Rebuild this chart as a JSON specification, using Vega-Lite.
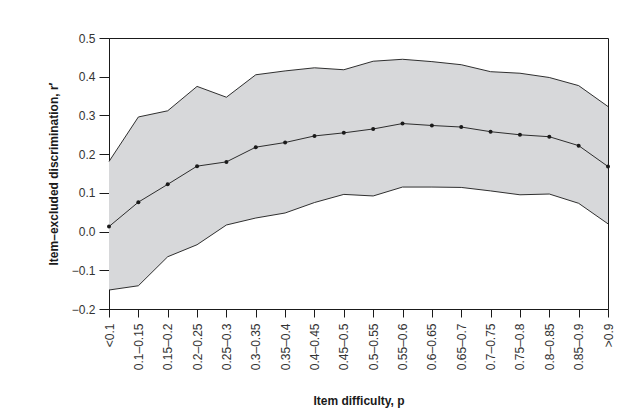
{
  "$schema": "https://vega.github.io/schema/vega-lite/v6.json",
  "autosize": "none",
  "width": 499,
  "height": 271,
  "padding": {"left": 109, "top": 38, "right": 32, "bottom": 108},
  "background": "white",
  "config": {
    "font": "Liberation Sans",
    "view": {"stroke": "#1a1a1a", "strokeWidth": 1},
    "axis": {
      "grid": false,
      "domainColor": "#1a1a1a",
      "tickColor": "#1a1a1a",
      "labelColor": "#333333",
      "labelFont": "Liberation Sans",
      "labelFontSize": 12,
      "labelOverlap": false,
      "titleFont": "Liberation Sans",
      "titleFontSize": 12,
      "titleFontWeight": "bold",
      "titleColor": "#1a1a1a"
    },
    "axisY": {
      "values": [-0.2, -0.1, 0, 0.1, 0.2, 0.3, 0.4, 0.5],
      "format": ".1f",
      "tickSize": 10,
      "labelPadding": 4,
      "titlePadding": 11
    }
  },
  "data": {
    "values": [
      {"cat": "<0.1", "mean": 0.013, "lo": -0.151, "hi": 0.181},
      {"cat": "0.1–0.15", "mean": 0.076, "lo": -0.140, "hi": 0.296},
      {"cat": "0.15–0.2", "mean": 0.122, "lo": -0.065, "hi": 0.312},
      {"cat": "0.2–0.25", "mean": 0.169, "lo": -0.034, "hi": 0.375},
      {"cat": "0.25–0.3", "mean": 0.180, "lo": 0.017, "hi": 0.347},
      {"cat": "0.3–0.35", "mean": 0.218, "lo": 0.035, "hi": 0.405},
      {"cat": "0.35–0.4", "mean": 0.230, "lo": 0.048, "hi": 0.415},
      {"cat": "0.4–0.45", "mean": 0.247, "lo": 0.075, "hi": 0.423},
      {"cat": "0.45–0.5", "mean": 0.255, "lo": 0.096, "hi": 0.418},
      {"cat": "0.5–0.55", "mean": 0.265, "lo": 0.092, "hi": 0.440},
      {"cat": "0.55–0.6", "mean": 0.279, "lo": 0.115, "hi": 0.445},
      {"cat": "0.6–0.65", "mean": 0.274, "lo": 0.115, "hi": 0.439},
      {"cat": "0.65–0.7", "mean": 0.270, "lo": 0.114, "hi": 0.431},
      {"cat": "0.7–0.75", "mean": 0.258, "lo": 0.105, "hi": 0.413},
      {"cat": "0.75–0.8", "mean": 0.250, "lo": 0.095, "hi": 0.409},
      {"cat": "0.8–0.85", "mean": 0.245, "lo": 0.097, "hi": 0.398},
      {"cat": "0.85–0.9", "mean": 0.222, "lo": 0.073, "hi": 0.377},
      {"cat": ">0.9", "mean": 0.168, "lo": 0.020, "hi": 0.323}
    ]
  },
  "encoding": {
    "x": {
      "field": "cat",
      "type": "ordinal",
      "sort": null,
      "scale": {"type": "point", "padding": 0},
      "axis": {
        "title": "Item difficulty, p",
        "labelAngle": -90,
        "labelPadding": 6,
        "tickSize": 8,
        "titlePadding": 26
      }
    }
  },
  "layer": [
    {
      "mark": {"type": "area", "color": "#d7d8da", "opacity": 1},
      "encoding": {
        "y": {
          "field": "lo",
          "type": "quantitative",
          "scale": {"domain": [-0.2, 0.5], "nice": false},
          "title": "Item–excluded discrimination,  r′"
        },
        "y2": {"field": "hi"}
      }
    },
    {
      "mark": {"type": "line", "color": "#1a1a1a", "strokeWidth": 0.9},
      "encoding": {"y": {"field": "hi", "type": "quantitative"}}
    },
    {
      "mark": {"type": "line", "color": "#1a1a1a", "strokeWidth": 0.9},
      "encoding": {"y": {"field": "lo", "type": "quantitative"}}
    },
    {
      "mark": {"type": "line", "color": "#1a1a1a", "strokeWidth": 0.9},
      "encoding": {"y": {"field": "mean", "type": "quantitative"}}
    },
    {
      "mark": {"type": "point", "filled": true, "color": "#1a1a1a", "size": 16, "opacity": 1},
      "encoding": {"y": {"field": "mean", "type": "quantitative"}}
    }
  ]
}
